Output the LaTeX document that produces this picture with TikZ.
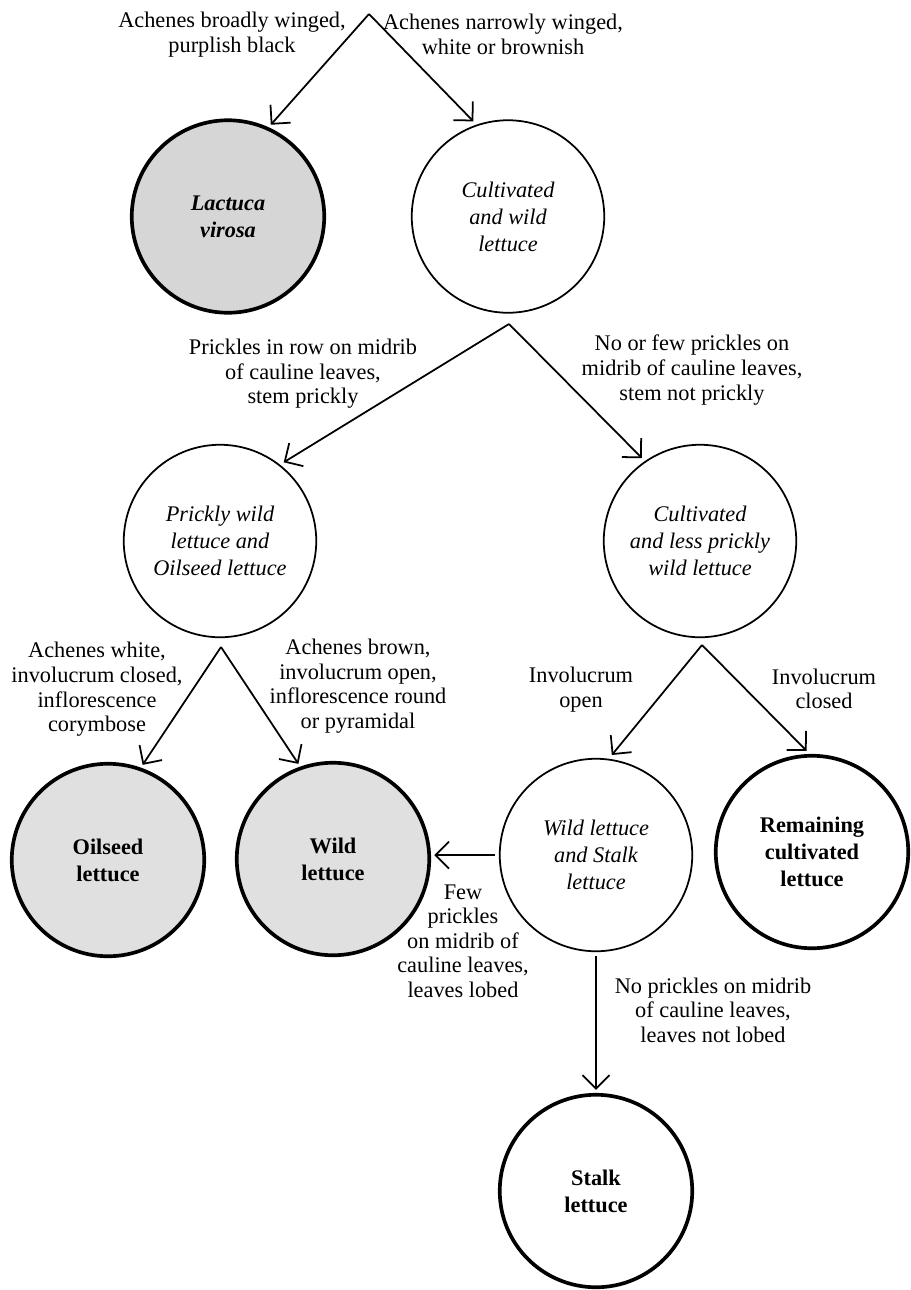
\documentclass[tikz,border=0pt]{standalone}
\usepackage{fontspec}
\setmainfont{Liberation Serif}
\usetikzlibrary{arrows.meta}
\definecolor{shadedark}{gray}{0.84}
\definecolor{shadelight}{gray}{0.88}

\begin{document}
\begin{tikzpicture}[
    taxon/.style={circle, draw, line width=1pt, minimum size=3.85cm, inner sep=0pt, outer sep=0.1cm,
        align=center, font=\fontsize{12.7}{15.3}\selectfont\itshape},
    final/.style={taxon, line width=2.1pt, font=\fontsize{12.7}{15.3}\selectfont\bfseries},
    key/.style={align=center, font=\fontsize{12.7}{14}\selectfont},
    arr/.style={line width=1pt, -{Straight Barb[length=0.27cm,width=0.54cm]}}
  ]
  \useasboundingbox (0,0) rectangle (18.22,-25.8);

  % circles
  \node[final, fill=shadedark, font=\fontsize{12.7}{15.3}\selectfont\bfseries\itshape] (lv) at (4.56,-4.33) {Lactuca\\virosa};
  \node[taxon] (cw) at (10.16,-4.33) {Cultivated\\and wild\\lettuce};
  \node[taxon] (pw) at (4.40,-10.82) {Prickly wild\\lettuce and\\Oilseed lettuce};
  \node[taxon] (cl) at (14.00,-10.82) {Cultivated\\and less prickly\\wild lettuce};
  \node[final, fill=shadelight] (os) at (2.16,-17.20) {Oilseed\\lettuce};
  \node[final, fill=shadelight] (wl) at (6.66,-17.18) {Wild\\lettuce};
  \node[taxon] (ws) at (11.92,-17.10) {Wild lettuce\\and Stalk\\lettuce};
  \node[final] (rc) at (16.24,-17.04) {Remaining\\cultivated\\lettuce};
  \node[final] (st) at (11.92,-23.82) {Stalk\\lettuce};

  % branch points
  \coordinate (k1) at (7.38,-0.28);
  \coordinate (k2) at (10.18,-6.48);
  \coordinate (k3) at (4.42,-12.94);
  \coordinate (k4) at (14.04,-12.90);

  \draw[arr] (k1) -- (lv.65);
  \draw[arr] (k1) -- (cw.110);
  \draw[arr] (k2) -- (pw.51);
  \draw[arr] (k2) -- (cl.125);
  \draw[arr] (k3) -- (os.70);
  \draw[arr] (k3) -- (wl.110);
  \draw[arr] (k4) -- (ws.81);
  \draw[arr] (k4) -- (rc.93);
  \draw[arr] (ws.west) -- (ws.west -| wl.east);
  \draw[arr] (ws.south) -- (st.north);

  % keys
  \node[key] (t1) at (4.64,-0.69) {Achenes broadly winged,\\purplish black};
  \node[key] (t2) at (10.06,-0.69) {Achenes narrowly winged,\\white or brownish};
  \node[key] (t3) at (6.06,-7.48) {Prickles in row on midrib\\of cauline leaves,\\stem prickly};
  \node[key] (t4) at (13.84,-7.40) {No or few prickles on\\midrib of cauline leaves,\\stem not prickly};
  \node[key] (t5) at (1.94,-13.79) {Achenes white,\\involucrum closed,\\inflorescence\\corymbose};
  \node[key] (t6) at (7.16,-13.72) {Achenes brown,\\involucrum open,\\inflorescence round\\or pyramidal};
  \node[key] (t7) at (11.62,-13.79) {Involucrum\\open};
  \node[key] (t8) at (16.48,-13.78) {Involucrum\\closed};
  \node[key] (t9) at (9.26,-18.82) {Few\\prickles\\on midrib of\\cauline leaves,\\leaves lobed};
  \node[key] (t10) at (14.26,-20.20) {No prickles on midrib\\of cauline leaves,\\leaves not lobed};
\end{tikzpicture}
\end{document}
